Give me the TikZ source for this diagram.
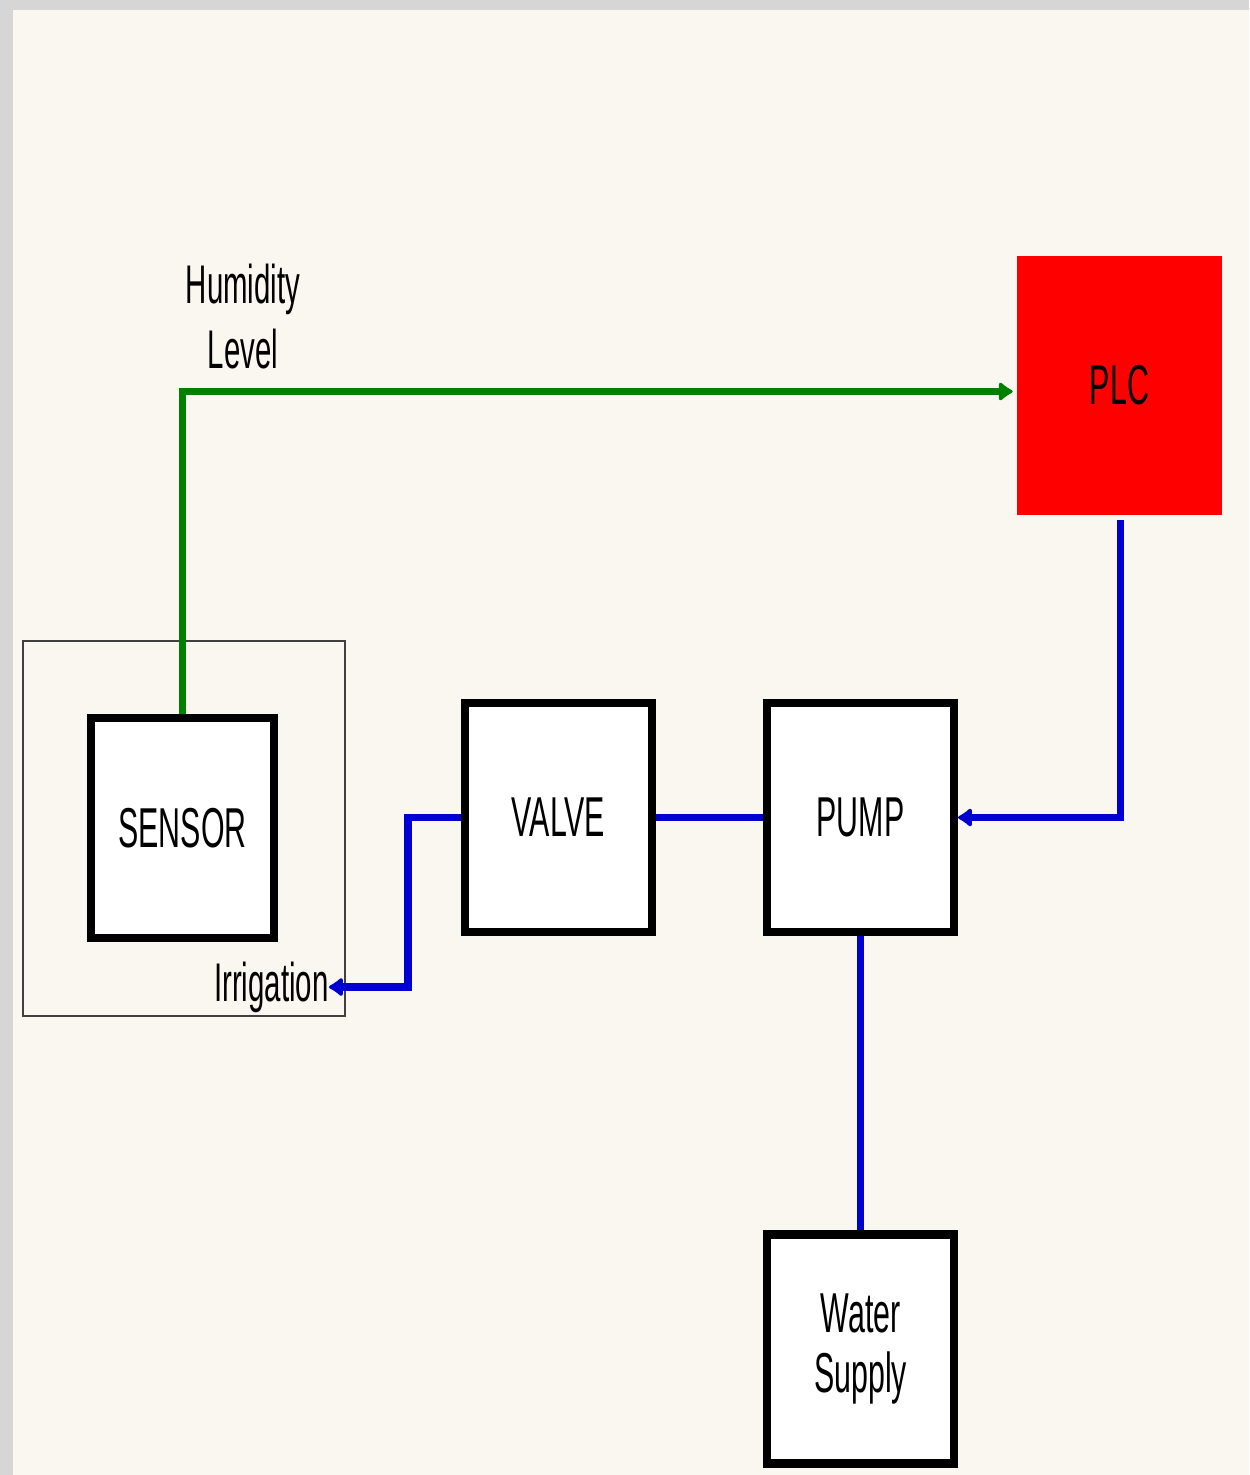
\documentclass[tikz,border=0pt]{standalone}
\usepackage{fontspec}
\setmainfont{Liberation Sans}[FakeStretch=0.54]
\usetikzlibrary{positioning, arrows.meta}

\definecolor{paper}{RGB}{250,246,240}
\definecolor{rim}{RGB}{214,214,214}
\definecolor{sig}{RGB}{0,128,0}
\definecolor{flowblue}{RGB}{0,0,210}
\definecolor{plcred}{RGB}{255,0,0}

\begin{document}
\begin{tikzpicture}[x=0.02cm, y=-0.02cm,
  block/.style={draw, line width=4.6pt, fill=white, minimum width=3.74cm, minimum height=4.58cm, font=\fontsize{32}{34}\selectfont},
  flow/.style={line width=4.4pt, flowblue},
  sense/.style={line width=4.4pt, sig},
  into/.style={-{Latex[round, length=9pt, width=13pt]}},
  tag/.style={font=\fontsize{31}{37}\selectfont, inner sep=0pt}]

% background
\fill[rim] (0,0) rectangle (1249,1475);
\fill[paper] (13,10) rectangle (1249,1475);
\useasboundingbox (0,0) rectangle (1249,1475);

% sensor group
\draw[line width=0.8pt, black!75] (23,641) rectangle (345,1016);
\node[block, minimum width=3.66cm, minimum height=4.4cm] (sensor) at (182.5,828) {SENSOR};

% water path
\node[block] (valve) at (558.5,817.5) {VALVE};
\node[block, right=2.14cm of valve] (pump) {PUMP};
\node[block, below=5.89cm of pump, align=center] (water) {Water\\Supply};

% controller
\node[fill=plcred, minimum width=4.1cm, minimum height=5.18cm, font=\fontsize{32}{34}\selectfont] (plc) at (1119.5,385.5) {PLC};

% labels
\node[tag, align=center] (hum) at (243,317) {Humidity\\Level};
\node[tag, anchor=east] (irr) at (329,987) {Irrigation};

% connectors
\draw[sense, into] (sensor.north) |- ([shift={(-4,6)}]plc.west);
\draw[flow, into] ([shift={(1,5)}]plc.south) |- (pump.east);
\draw[flow] (valve) -- (pump);
\draw[flow] (pump) -- (water);
\draw[flow, into] (valve.west) -- ++(-53,0) |- (irr.east);
\end{tikzpicture}
\end{document}
